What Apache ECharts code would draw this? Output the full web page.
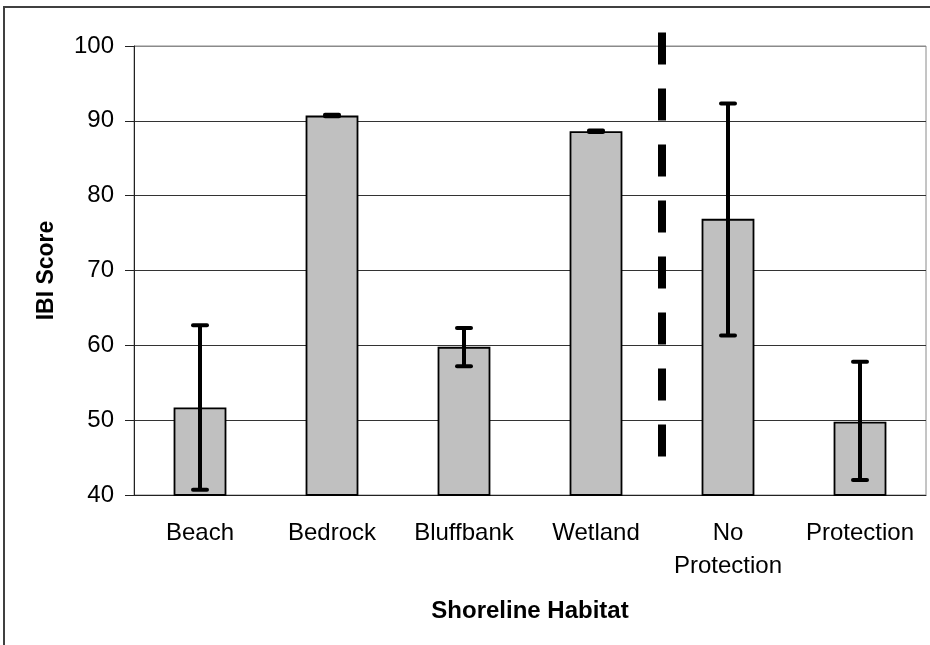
<!DOCTYPE html>
<html>
<head>
<meta charset="utf-8">
<title>IBI Score by Shoreline Habitat</title>
<script src="https://cdn.jsdelivr.net/npm/echarts@6/dist/echarts.min.js"></script>
<style>
    html, body { margin: 0; padding: 0; background: #fff; }
    #chart { width: 930px; height: 645px; }
</style>
</head>
<body>
<div id="chart"></div>
<script>
    // data
    const categories = ['Beach', 'Bedrock', 'Bluffbank', 'Wetland', 'No\nProtection', 'Protection'];
    const ibiMean = [51.7, 90.7, 59.8, 88.6, 76.9, 49.8];
    const errLow = [40.7, 90.6, 57.2, 88.5, 61.3, 42.0];
    const errHigh = [62.7, 90.8, 62.3, 88.7, 92.3, 57.8];
    const yTicks = [40, 50, 60, 70, 80, 90, 100];
    // dashed divider sits after this category, spanning these values
    const dividerAfter = 3;
    const dividerSpan = [45.1, 101.8];

    const font = 'Arial, "Liberation Sans", sans-serif';

    const errData = categories.map(function (c, i) {
        return [i, errLow[i], errHigh[i]];
    });

    const chart = echarts.init(document.getElementById('chart'), null, { renderer: 'canvas' });

    const option = {
        backgroundColor: '#fff',
        animation: false,
        // outer chart frame
        graphic: [{
            type: 'rect',
            shape: { x: 4, y: 7, width: 960, height: 700 },
            style: { fill: 'none', stroke: '#404040', lineWidth: 2 },
            silent: true
        }],
        grid: {
            left: 134,
            right: 4,
            top: 46,
            bottom: 150,
            show: true,
            borderColor: '#8a8a8a',
            borderWidth: 1
        },
        xAxis: {
            type: 'category',
            data: categories,
            name: 'Shoreline Habitat',
            nameLocation: 'middle',
            nameGap: 104,
            nameTextStyle: { fontFamily: font, fontSize: 24, fontWeight: 'bold', color: '#000' },
            axisLine: { lineStyle: { color: '#222', width: 1 } },
            axisTick: { length: 9, lineStyle: { color: '#222' } },
            axisLabel: {
                fontFamily: font,
                fontSize: 24,
                color: '#000',
                margin: 22,
                lineHeight: 33,
                interval: 0
            },
            splitLine: { show: false }
        },
        yAxis: {
            type: 'value',
            min: yTicks[0],
            max: yTicks[yTicks.length - 1],
            interval: yTicks[1] - yTicks[0],
            name: 'IBI Score',
            nameLocation: 'middle',
            nameGap: 76,
            nameRotate: 90,
            nameTextStyle: { fontFamily: font, fontSize: 23, fontWeight: 'bold', color: '#000' },
            axisLine: { show: true, lineStyle: { color: '#222', width: 1 } },
            axisTick: { show: true, length: 9, lineStyle: { color: '#222' } },
            axisLabel: { fontFamily: font, fontSize: 24, color: '#000', margin: 20 },
            splitLine: {
                show: true,
                // top line is the grey plot border
                lineStyle: { color: ['#333', '#333', '#333', '#333', '#333', '#333', '#8a8a8a'], width: 1 }
            }
        },
        series: [
            {
                name: 'IBI',
                type: 'bar',
                data: ibiMean,
                barWidth: '40%',
                itemStyle: { color: '#c0c0c0', borderColor: '#000', borderWidth: 1.8 },
                z: 2
            },
            {
                // error bars
                type: 'custom',
                data: errData,
                z: 3,
                renderItem: function (params, api) {
                    const x = api.value(0);
                    const lo = api.coord([x, api.value(1)]);
                    const hi = api.coord([x, api.value(2)]);
                    const half = 7;
                    const style = { stroke: '#000', lineWidth: 4 };
                    const capStyle = { stroke: '#000', lineWidth: 4, lineCap: 'round' };
                    return {
                        type: 'group',
                        children: [
                            { type: 'line', shape: { x1: hi[0], y1: hi[1], x2: lo[0], y2: lo[1] }, style: style },
                            { type: 'line', shape: { x1: hi[0] - half, y1: hi[1], x2: hi[0] + half, y2: hi[1] }, style: capStyle },
                            { type: 'line', shape: { x1: lo[0] - half, y1: lo[1], x2: lo[0] + half, y2: lo[1] }, style: capStyle }
                        ]
                    };
                }
            },
            {
                // dashed divider between habitat types and protection
                type: 'custom',
                data: [[dividerAfter, dividerSpan[0], dividerSpan[1]]],
                clip: false,
                z: 4,
                renderItem: function (params, api) {
                    const x = api.value(0);
                    const top = api.coord([x, api.value(2)]);
                    const bot = api.coord([x, api.value(1)]);
                    const shift = api.size([1, 0])[0] / 2;
                    return {
                        type: 'line',
                        shape: { x1: top[0] + shift, y1: top[1], x2: bot[0] + shift, y2: bot[1] },
                        style: { stroke: '#000', lineWidth: 8, lineDash: [32, 24], lineCap: 'butt' }
                    };
                }
            }
        ]
    };

    chart.setOption(option);
    window.addEventListener('resize', chart.resize);
</script>
</body>
</html>
